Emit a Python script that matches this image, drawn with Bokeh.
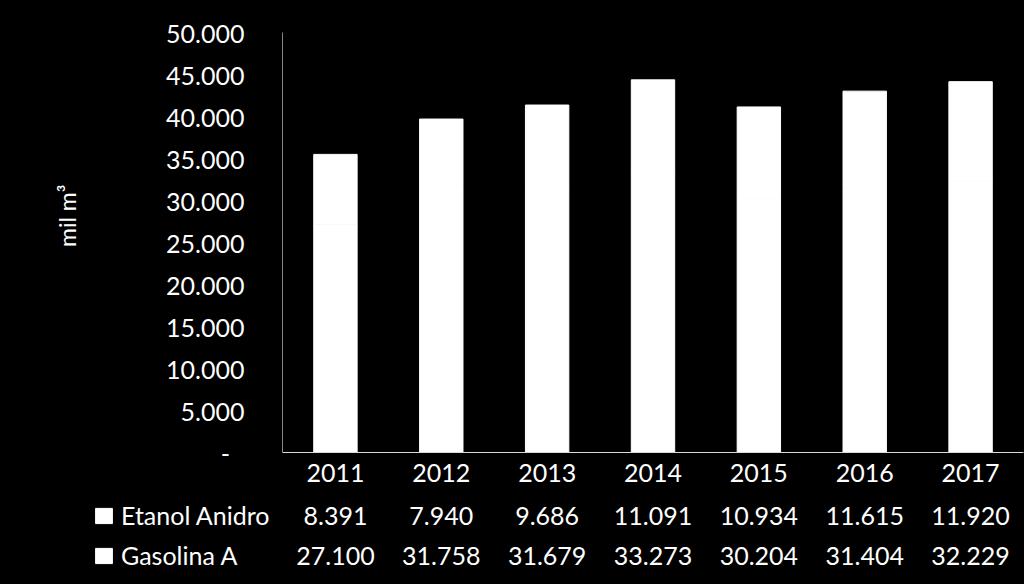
from bokeh.plotting import figure
from bokeh.layouts import column
from bokeh.models import Range1d, FixedTicker, Legend, LegendItem
from bokeh.core.properties import value
from bokeh.embed import file_html
from bokeh.resources import INLINE

years = ["2011", "2012", "2013", "2014", "2015", "2016", "2017"]
etanol = [8391, 7940, 9686, 11091, 10934, 11615, 11920]
gasolina = [27100, 31758, 31679, 33273, 30204, 31404, 32229]
series_names = ["Etanol Anidro", "Gasolina A"]
y_ticks = [0, 5000, 10000, 15000, 20000, 25000, 30000, 35000, 40000, 45000, 50000]

def fmt(v):
    return "-\u2007\u200b" if v == 0 else f"{v:,}".replace(",", ".")

FONT = "Lato"
FS = "25px"
BG = {"background-color": "black"}

n = len(years)
xs = [i + 0.5 for i in range(n)]
src = dict(x=xs, gasolina=gasolina, etanol=etanol)

# ---------- chart ----------
LEFT, RIGHT, TOP, BOTTOM = 282, 1, 32, 42
W, H1, H2 = 1024, 494, 90
p = figure(width=W, height=H1, output_backend="svg", toolbar_location=None,
           x_range=Range1d(0, n), y_range=Range1d(0, 50000),
           min_border_left=LEFT, min_border_right=RIGHT,
           min_border_top=TOP, min_border_bottom=BOTTOM)
p.frame_align = False
p.styles = BG
p.background_fill_color = "black"
p.border_fill_color = "black"
p.outline_line_color = None
p.grid.visible = False

rs = p.vbar_stack(["gasolina", "etanol"], x="x", width=0.41, source=src,
                  fill_color=["white", "white"], line_color=["white", "white"])

ya = p.yaxis[0]
ya.ticker = FixedTicker(ticks=y_ticks)
ya.major_label_overrides = {t: fmt(t) for t in y_ticks}
ya.major_tick_line_color = None
ya.minor_tick_line_color = None
ya.axis_line_color = "#868686"
ya.major_label_text_color = "white"
ya.major_label_text_font = FONT
ya.major_label_text_font_size = FS
ya.major_label_standoff = 32
ya.axis_label = "\u2007\u2007\u2007\u2007mil m³"
ya.axis_label_text_color = "white"
ya.axis_label_text_font = FONT
ya.axis_label_text_font_size = "23px"
ya.axis_label_text_font_style = "normal"
ya.axis_label_standoff = 82

xa = p.xaxis[0]
xa.ticker = FixedTicker(ticks=xs)
xa.major_label_overrides = {x: y for x, y in zip(xs, years)}
xa.major_tick_line_color = None
xa.minor_tick_line_color = None
xa.axis_line_color = "#d9d9d9"
xa.major_label_text_color = "white"
xa.major_label_text_font = FONT
xa.major_label_text_font_size = FS
xa.major_label_standoff = 5

# ---------- data table below ----------
ppu = (W - LEFT - RIGHT) / n   # pixels per category, same as chart
x0 = -LEFT / ppu
p2 = figure(width=W, height=H2, output_backend="svg", toolbar_location=None,
            x_range=Range1d(x0, x0 + W / ppu), y_range=Range1d(0, H2),
            x_axis_type=None, y_axis_type=None, min_border=0)
p2.frame_align = False
p2.styles = BG
p2.background_fill_color = "black"
p2.border_fill_color = "black"
p2.outline_line_color = None
p2.grid.visible = False

row_y = [69, 29]
for vals, yy in zip([etanol, gasolina], row_y):
    p2.text(x=xs, y=[yy] * n, text=[fmt(v) for v in vals],
            text_color="white", text_font=value(FONT), text_font_size=FS,
            text_align="center", text_baseline="middle")

# hidden copies of the two series, used only as legend keys
keys = p2.vbar_stack(["gasolina", "etanol"], x="x", width=0.41, source=src,
                     fill_color=["white", "white"], line_color=["white", "white"])
for k in keys:
    k.visible = False
legend = Legend(items=[LegendItem(label=series_names[0], renderers=[keys[1]]),
                       LegendItem(label=series_names[1], renderers=[keys[0]])],
                location=(93, 14), orientation="vertical")
legend.background_fill_alpha = 0
legend.border_line_color = None
legend.label_text_color = "white"
legend.label_text_font = FONT
legend.label_text_font_size = FS
legend.glyph_width = 21
legend.glyph_height = 19
legend.label_standoff = 7
legend.spacing = 10
legend.padding = 0
legend.margin = 0
p2.add_layout(legend, "center")

layout = column(p, p2, spacing=0, styles=BG)
open("out.html", "w").write(file_html(layout, INLINE))
